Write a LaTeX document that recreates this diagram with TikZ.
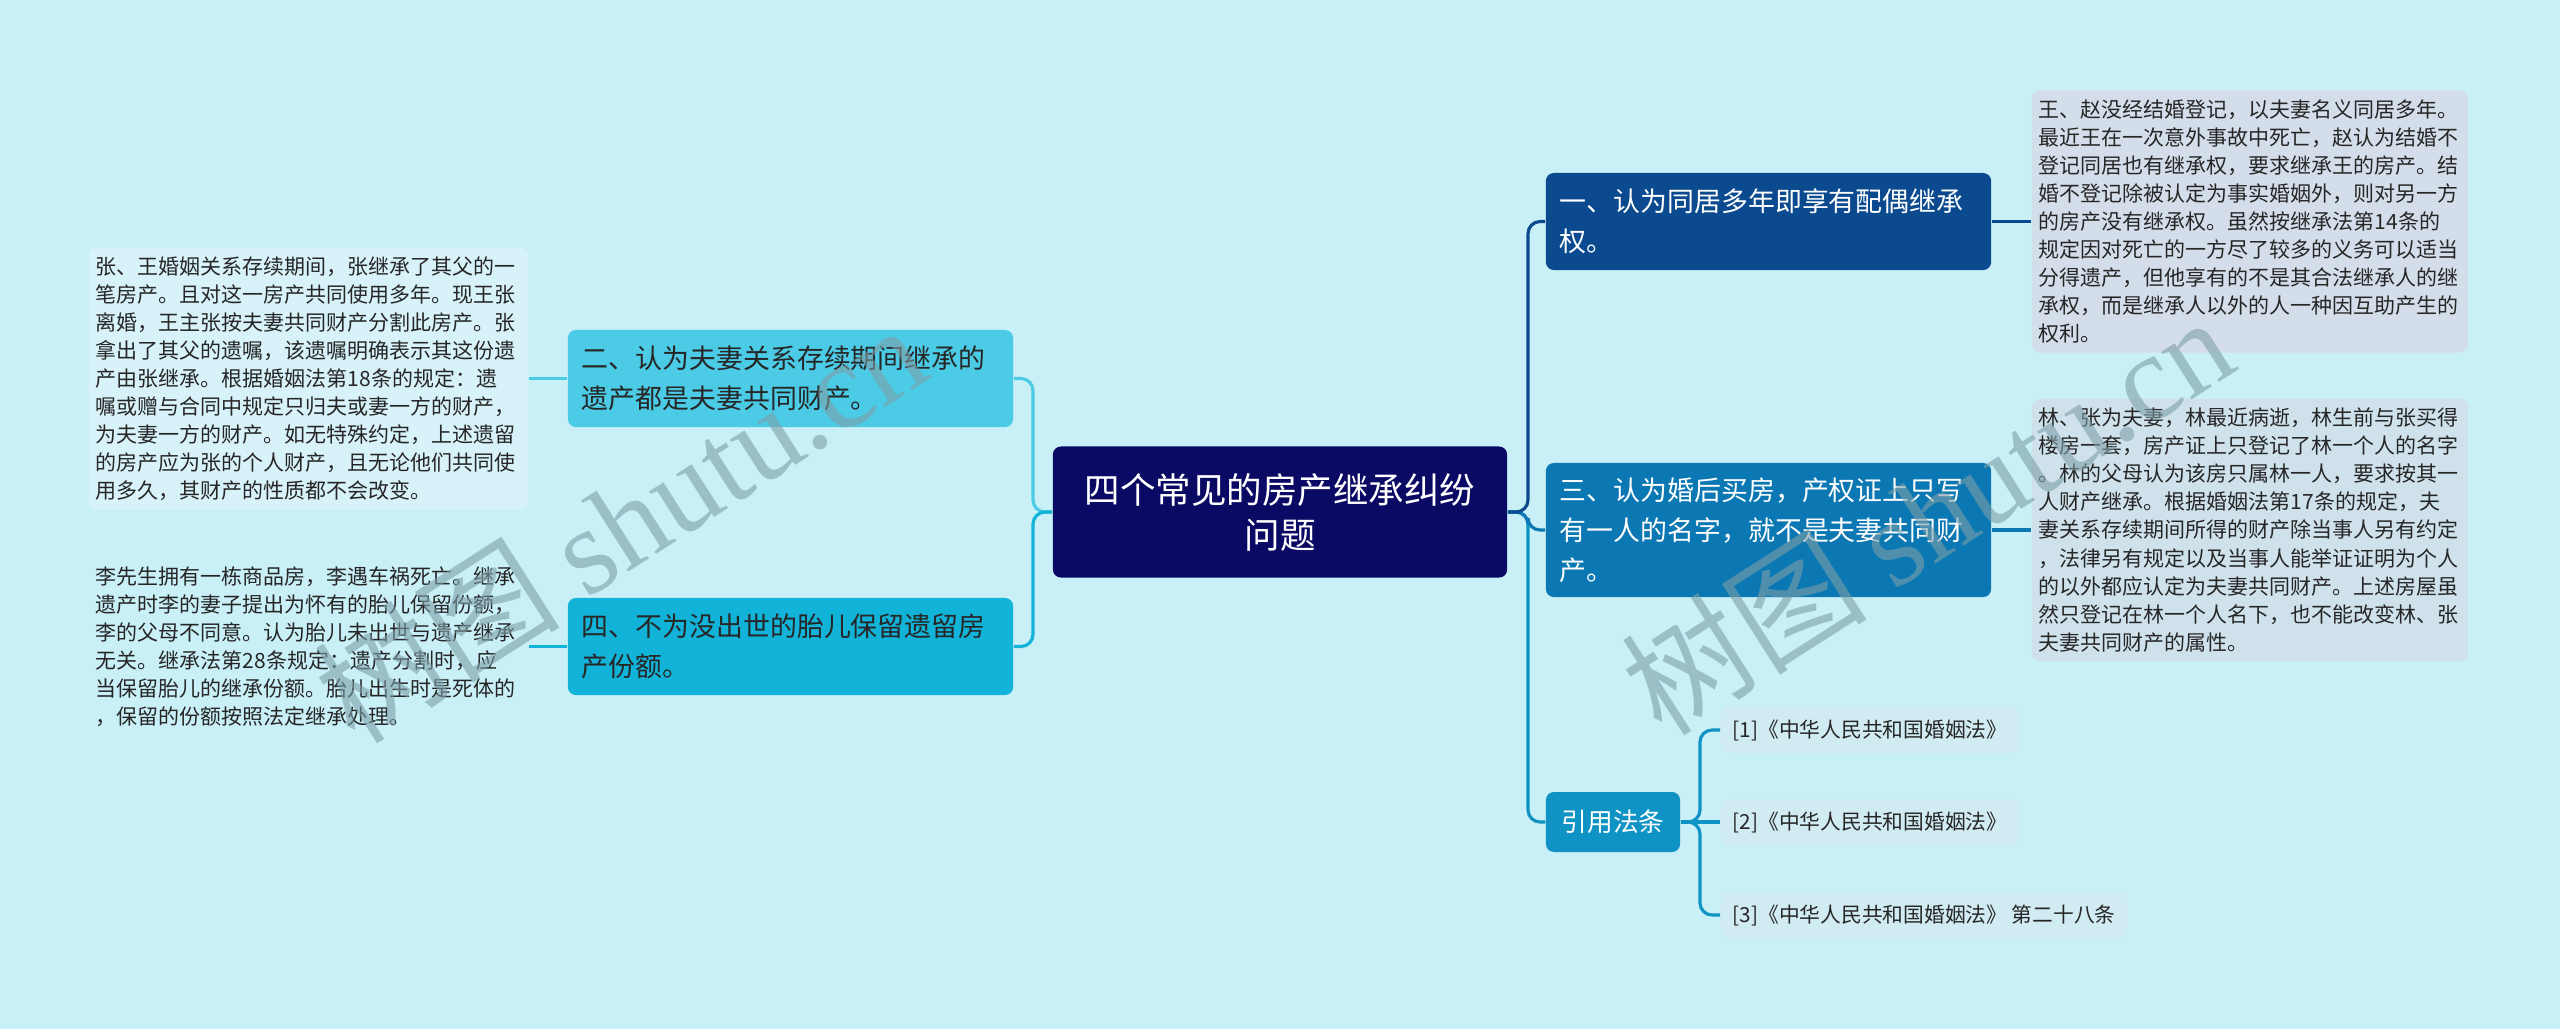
\documentclass[tikz,border=0pt]{standalone}
\usepackage{fontspec}
\setmainfont{Noto Sans CJK SC}
\newfontfamily\wmfont{Liberation Serif}
\definecolor{bgcol}{HTML}{C9EFF7}
\definecolor{rootcol}{HTML}{0A0A64}
\definecolor{onecol}{HTML}{0C4A8F}
\definecolor{threecol}{HTML}{0B78B4}
\definecolor{citecol}{HTML}{0F93C4}
\definecolor{twocol}{HTML}{4CCBE6}
\definecolor{fourcol}{HTML}{12B3D8}
\definecolor{textcol}{HTML}{262626}
\definecolor{leafa}{HTML}{D4DEEA}
\definecolor{leafb}{HTML}{CFE2EC}
\definecolor{leafc}{HTML}{D8F2F9}
\definecolor{refcol}{HTML}{D1EBF2}
\definecolor{wmcol}{HTML}{7D9FA8}
\tikzset{
  box/.style={rounded corners=0.08cm, inner ysep=0pt},
  rootbox/.style={box, fill=rootcol, text=white, align=center, minimum width=4.54cm, minimum height=1.31cm, font=\fontsize{10.1}{12.8}\selectfont},
  branch/.style={box, text width=4.17cm, inner xsep=0.14cm, align=left, minimum height=0.97cm, font=\fontsize{7.65}{11.4}\selectfont},
  leaf/.style={box, text width=4.22cm, inner xsep=0.07cm, align=left, minimum height=2.62cm, text=textcol, font=\fontsize{5.97}{7.97}\selectfont},
  refbox/.style={box, rounded corners=0.1cm, fill=refcol, text=textcol, inner xsep=0.12cm, minimum height=0.46cm, anchor=west, font=\fontsize{5.9}{7}\selectfont},
  link/.style={line width=0.9pt, rounded corners=0.12cm},
  wm/.style={text=wmcol, text opacity=0.6, rotate=32.6, font=\fontsize{35}{35}\selectfont}
}
\begin{document}
\begin{tikzpicture}[x=0.01cm,y=-0.01cm]
\fill[bgcol] (0,0) rectangle (2560,1029);
\useasboundingbox (0,0) rectangle (2560,1029);

\coordinate (rj) at (1528,512);
\coordinate (lj) at (1033,512);
\coordinate (cj) at (1700,822);

\node[rootbox] (root) at (1280,512) {四个常见的房产继承纠纷\\问题};

\node[branch, fill=onecol, text=white] (b1) at (1768.5,221.5) {一、认为同居多年即享有配偶继承\\权。};
\node[branch, fill=threecol, text=white, minimum height=1.34cm] (b3) at (1768.5,530) {三、认为婚后买房，产权证上只写\\有一人的名字，就不是夫妻共同财\\产。};
\node[box, fill=citecol, text=white, minimum width=1.34cm, minimum height=0.6cm, font=\fontsize{7.3}{9}\selectfont] (cite) at (1613,822) {引用法条};
\node[branch, fill=twocol, text=textcol] (b2) at (790.5,378.5) {二、认为夫妻关系存续期间继承的\\遗产都是夫妻共同财产。};
\node[branch, fill=fourcol, text=textcol] (b4) at (790.5,646.5) {四、不为没出世的胎儿保留遗留房\\产份额。};

\node[leaf, fill=leafa] (l1) at (2250,221.5) {王、赵没经结婚登记，以夫妻名义同居多年。\\最近王在一次意外事故中死亡，赵认为结婚不\\登记同居也有继承权，要求继承王的房产。结\\婚不登记除被认定为事实婚姻外，则对另一方\\的房产没有继承权。虽然按继承法第14条的\\规定因对死亡的一方尽了较多的义务可以适当\\分得遗产，但他享有的不是其合法继承人的继\\承权，而是继承人以外的人一种因互助产生的\\权利。};
\node[leaf, fill=leafb] (l3) at (2250,530) {林、张为夫妻，林最近病逝，林生前与张买得\\楼房一套，房产证上只登记了林一个人的名字\\。林的父母认为该房只属林一人，要求按其一\\人财产继承。根据婚姻法第17条的规定，夫\\妻关系存续期间所得的财产除当事人另有约定\\，法律另有规定以及当事人能举证证明为个人\\的以外都应认定为夫妻共同财产。上述房屋虽\\然只登记在林一个人名下，也不能改变林、张\\夫妻共同财产的属性。};
\node[leaf, fill=leafc, text width=4.25cm] (l2) at (308.5,378.5) {张、王婚姻关系存续期间，张继承了其父的一\\笔房产。且对这一房产共同使用多年。现王张\\离婚，王主张按夫妻共同财产分割此房产。张\\拿出了其父的遗嘱，该遗嘱明确表示其这份遗\\产由张继承。根据婚姻法第18条的规定：遗\\嘱或赠与合同中规定只归夫或妻一方的财产，\\为夫妻一方的财产。如无特殊约定，上述遗留\\的房产应为张的个人财产，且无论他们共同使\\用多久，其财产的性质都不会改变。};
\node[leaf, text width=4.25cm, minimum height=1.9cm] (l4) at (308.5,646.5) {李先生拥有一栋商品房，李遇车祸死亡。继承\\遗产时李的妻子提出为怀有的胎儿保留份额，\\李的父母不同意。认为胎儿未出世与遗产继承\\无关。继承法第28条规定：遗产分割时，应\\当保留胎儿的继承份额。胎儿出生时是死体的\\，保留的份额按照法定继承处理。};

\node[refbox] (r1) at (1720,730) {[1]《中华人民共和国婚姻法》};
\node[refbox] (r2) at (1720,822) {[2]《中华人民共和国婚姻法》};
\node[refbox] (r3) at (1720,915) {[3]《中华人民共和国婚姻法》 第二十八条};

\draw[link, citecol] (root.east) -- (rj) |- (cite.west);
\draw[link, threecol] (root.east) -- (rj) |- (b3.west);
\draw[link, onecol] (root.east) -- (rj) |- (b1.west);
\draw[link, twocol] (root.west) -- (lj) |- (b2.east);
\draw[link, fourcol] (root.west) -- (lj) |- (b4.east);

\draw[link, onecol] (b1.east) -- (l1.west);
\draw[link, threecol] (b3.east) -- (l3.west);
\draw[link, twocol] (b2.west) -- (l2.east);
\draw[link, fourcol] (b4.west) -- (l4.east);

\draw[link, citecol] (cite.east) -- (cj) |- (r1.west);
\draw[link, citecol] (cite.east) -- (cj) |- (r3.west);
\draw[link, citecol] (cite.east) -- (r2.west);

\node[wm] (wm1) at (620,522) {树图 {\wmfont shutu.cn}};
\node[wm] (wm2) at (1927,514) {树图 {\wmfont shutu.cn}};
\end{tikzpicture}
\end{document}
